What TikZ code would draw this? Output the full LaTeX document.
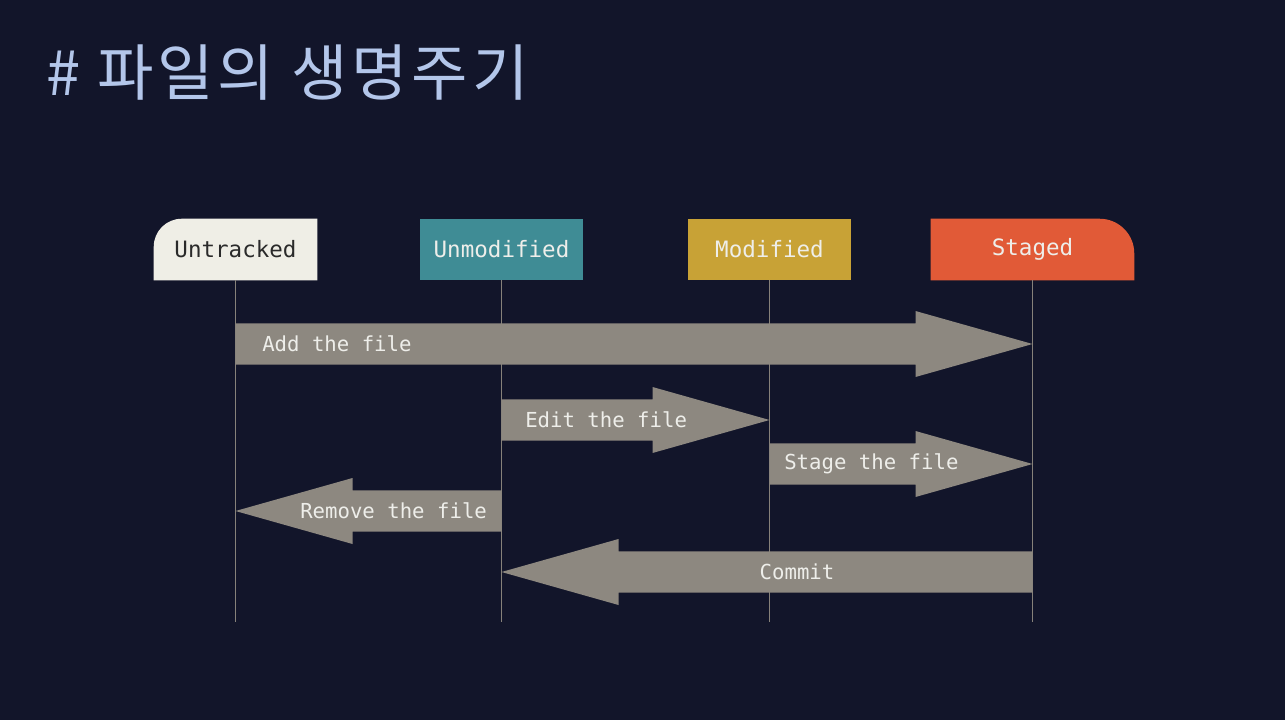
\documentclass[tikz,border=0pt]{standalone}
\usepackage{fontspec}
\newfontfamily\codefont{DejaVu Sans Mono}
\newfontfamily\krfont[LetterSpace=6]{Noto Sans CJK KR}
\usetikzlibrary{calc}

\pgfdeclarelayer{back}
\pgfsetlayers{back,main}

\definecolor{canvas}{HTML}{12152A}
\definecolor{titleblue}{HTML}{B3C6EA}
\definecolor{paper}{HTML}{EFEEE6}
\definecolor{tealbox}{HTML}{3F8C95}
\definecolor{mustard}{HTML}{C8A236}
\definecolor{tomato}{HTML}{E15A37}
\definecolor{arrowgray}{HTML}{8D8880}
\definecolor{lifeline}{HTML}{86817A}
\definecolor{lighttext}{HTML}{EEEEEA}
\definecolor{darktext}{HTML}{2A2A2A}

\tikzset{
  state/.style={minimum width=122.25pt, minimum height=45.75pt, inner sep=0pt,
    font=\codefont\fontsize{16.9}{18}\selectfont, text=lighttext},
  life/.style={draw=lifeline, line width=1pt},
  flow/.style={fill=arrowgray},
  flowlabel/.style={anchor=west, inner sep=0pt, text=lighttext,
    font=\codefont\fontsize{15.5}{17}\selectfont},
}

% fat arrow: tail, tip, head offset from tip
\newcommand{\fatarrow}[3]{%
  \fill[flow] ([yshift=15.4pt]#1) -- ([xshift=#3,yshift=15.4pt]#2)
    -- ([xshift=#3,yshift=24.75pt]#2) -- (#2)
    -- ([xshift=#3,yshift=-24.75pt]#2) -- ([xshift=#3,yshift=-15.4pt]#2)
    -- ([yshift=-15.4pt]#1) -- cycle;}

\begin{document}
\begin{tikzpicture}[x=0.75pt,y=-0.75pt]
    \useasboundingbox (0,0) rectangle (1285,720);

    \node[anchor=west, inner sep=0pt, text=titleblue, font=\krfont\fontsize{46}{50}\selectfont] (title) at (46,73) {\# 파일의 생명주기};

    \node[state, text=darktext] (untracked) at (235.5,249.5) {Untracked};
    \node[state, fill=tealbox] (unmodified) at (501.5,249.5) {Unmodified};
    \node[state, fill=mustard] (modified) at (769.5,249.5) {Modified};
    \node[state, minimum width=152.25pt] (staged) at (1032.5,249.5) {Staged};

    \begin{pgfonlayer}{back}
      \fill[canvas] (0,0) rectangle (1285,720);
      \fill[paper] (untracked.south west) -- ([yshift=-21pt]untracked.north west)
        arc[start angle=180, end angle=90, radius=21pt] -- (untracked.north east)
        -- (untracked.south east) -- cycle;
      \fill[tomato] (staged.south west) -- (staged.north west)
        -- ([xshift=-26pt]staged.north east) arc[start angle=90, end angle=0, radius=26pt]
        -- (staged.south east) -- cycle;
    \end{pgfonlayer}

    % lifelines
    \coordinate (bottom) at (0,622);
    \foreach \s in {untracked,unmodified,modified,staged}
      \draw[life] (\s.south) -- (\s.south |- bottom);

    \coordinate (add0) at (untracked.south |- 0,344);
    \coordinate (add1) at (staged.south |- 0,344);
    \coordinate (edit0) at (unmodified.south |- 0,420);
    \coordinate (edit1) at (modified.south |- 0,420);
    \coordinate (stage0) at (modified.south |- 0,464);
    \coordinate (stage1) at (staged.south |- 0,464);
    \coordinate (remove0) at (unmodified.south |- 0,511);
    \coordinate (remove1) at (untracked.south |- 0,511);
    \coordinate (commit0) at (staged.south |- 0,572);
    \coordinate (commit1) at (unmodified.south |- 0,572);

    \fatarrow{add0}{add1}{-87.75pt}
    \fatarrow{edit0}{edit1}{-87.75pt}
    \fatarrow{stage0}{stage1}{-87.75pt}
    \fatarrow{remove0}{remove1}{87.75pt}
    \fatarrow{commit0}{commit1}{87.75pt}

    \node[flowlabel] (addlbl) at (262,344) {Add the file};
    \node[flowlabel] (editlbl) at (525,420) {Edit the file};
    \node[flowlabel] (stagelbl) at (784,464) {Stage the file};
    \node[flowlabel] (removelbl) at (300,511) {Remove the file};
    \node[flowlabel, anchor=center] (commitlbl) at (797,572) {Commit};
\end{tikzpicture}
\end{document}
